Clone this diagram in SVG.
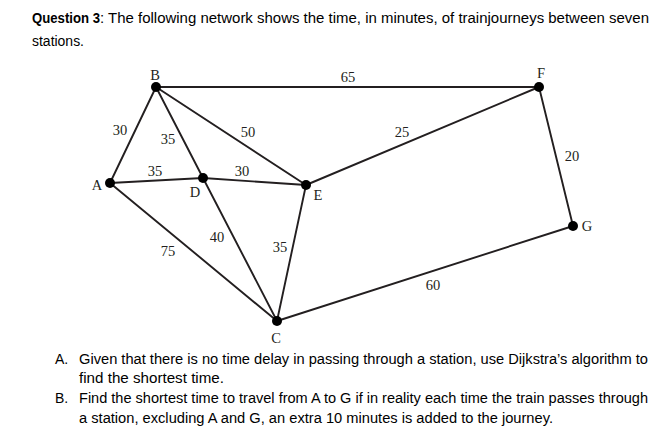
<svg xmlns="http://www.w3.org/2000/svg" width="669" height="438" viewBox="0 0 669 438">
<style>
.q{font-family:"Liberation Sans",Arial,sans-serif;font-size:14px;fill:#000}
.b{font-weight:bold}
.lbl{font-family:"Liberation Serif","Times New Roman",serif;font-size:14.5px;fill:#231f20;text-anchor:middle}
.e{stroke:#231f20;stroke-width:1.9;fill:none;stroke-linecap:round}
.n{fill:#000}
</style>
<rect width="669" height="438" fill="#fff"/>
<text class="q b" x="32" y="22.5" textLength="68" lengthAdjust="spacingAndGlyphs">Question 3</text>
<text class="q" x="100" y="22.5" textLength="549" lengthAdjust="spacingAndGlyphs">: The following network shows the time, in minutes, of trainjourneys between seven</text>
<text class="q" x="32" y="46" textLength="52" lengthAdjust="spacingAndGlyphs">stations.</text>
<g id="connectors">
<line class="e" x1="110" y1="183" x2="156" y2="87"/>
<line class="e" x1="110" y1="183" x2="203" y2="178"/>
<line class="e" x1="110" y1="183" x2="277" y2="321"/>
<line class="e" x1="156" y1="87" x2="203" y2="178"/>
<line class="e" x1="156" y1="87" x2="306" y2="185"/>
<line class="e" x1="156" y1="87" x2="539" y2="87"/>
<line class="e" x1="203" y1="178" x2="306" y2="185"/>
<line class="e" x1="203" y1="178" x2="277" y2="321"/>
<line class="e" x1="306" y1="185" x2="277" y2="321"/>
<line class="e" x1="306" y1="185" x2="539" y2="87"/>
<line class="e" x1="539" y1="87" x2="573" y2="226"/>
<line class="e" x1="573" y1="226" x2="277" y2="321"/>
<text class="lbl" x="120" y="135">30</text>
<text class="lbl" x="168" y="144">35</text>
<text class="lbl" x="248" y="137">50</text>
<text class="lbl" x="155" y="176">35</text>
<text class="lbl" x="242" y="176">30</text>
<text class="lbl" x="348" y="82">65</text>
<text class="lbl" x="402" y="137">25</text>
<text class="lbl" x="572" y="161">20</text>
<text class="lbl" x="217" y="242">40</text>
<text class="lbl" x="168" y="256">75</text>
<text class="lbl" x="280" y="252">35</text>
<text class="lbl" x="433" y="290">60</text>
</g>
<g id="node-A"><circle class="n" cx="110" cy="183" r="5"/><text class="lbl" x="97" y="190">A</text></g>
<g id="node-B"><circle class="n" cx="156" cy="87" r="5"/><text class="lbl" x="155" y="79.5">B</text></g>
<g id="node-C"><circle class="n" cx="277" cy="321" r="5"/><text class="lbl" x="276" y="343">C</text></g>
<g id="node-D"><circle class="n" cx="203" cy="178" r="5"/><text class="lbl" x="195" y="197">D</text></g>
<g id="node-E"><circle class="n" cx="306" cy="185" r="5"/><text class="lbl" x="318" y="200">E</text></g>
<g id="node-F"><circle class="n" cx="539" cy="87" r="5"/><text class="lbl" x="541" y="78">F</text></g>
<g id="node-G"><circle class="n" cx="573" cy="226" r="5"/><text class="lbl" x="587" y="231">G</text></g>
<text class="q" x="55" y="364">A.</text>
<text class="q" x="79" y="364" textLength="569" lengthAdjust="spacingAndGlyphs">Given that there is no time delay in passing through a station, use Dijkstra’s algorithm to</text>
<text class="q" x="79" y="383" textLength="145" lengthAdjust="spacingAndGlyphs">find the shortest time.</text>
<text class="q" x="55" y="403">B.</text>
<text class="q" x="79" y="403" textLength="569" lengthAdjust="spacingAndGlyphs">Find the shortest time to travel from A to G if in reality each time the train passes through</text>
<text class="q" x="79" y="423" textLength="474" lengthAdjust="spacingAndGlyphs">a station, excluding A and G, an extra 10 minutes is added to the journey.</text>
</svg>
